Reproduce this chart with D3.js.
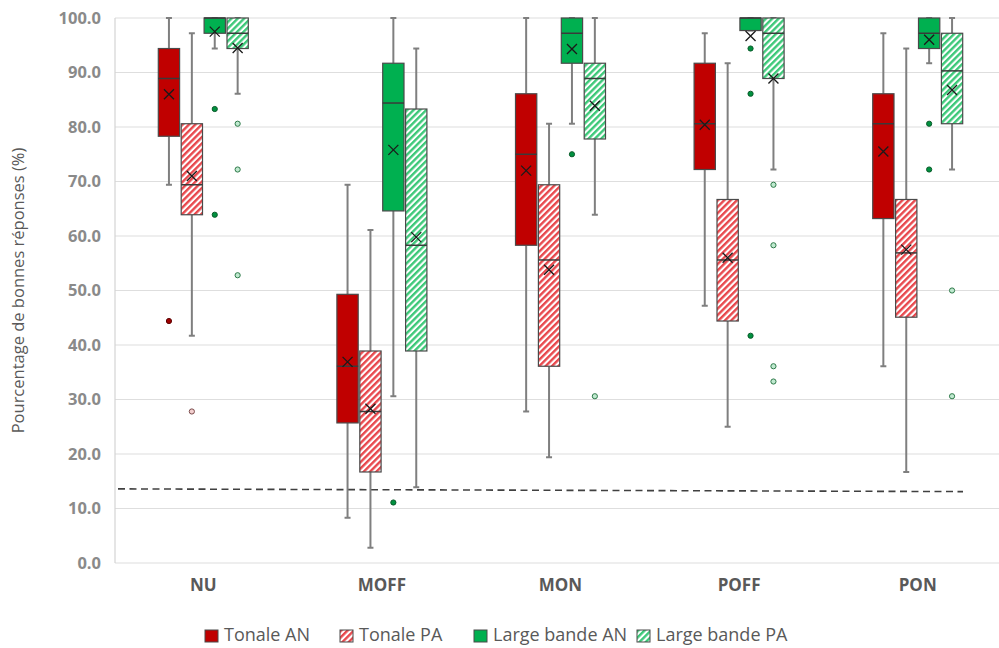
<!DOCTYPE html>
<html>
<head>
<meta charset="utf-8">
<script src="https://cdn.jsdelivr.net/npm/d3@7"></script>
<style>
  body { margin: 0; background: #fff; }
  text { font-family: "Open Sans", Lato, sans-serif; }
</style>
</head>
<body>
<div id="chart"></div>
<script>
const categories = ["NU", "MOFF", "MON", "POFF", "PON"];
const seriesNames = ["Tonale AN", "Tonale PA", "Large bande AN", "Large bande PA"];
const yTicks = [0, 10, 20, 30, 40, 50, 60, 70, 80, 90, 100];

// [min, q1, median, q3, max, mean] per category
const tonaleAN = [
  [69.4, 78.3, 88.9, 94.4, 100, 86.0],
  [8.3, 25.7, 36.1, 49.3, 69.4, 36.9],
  [27.8, 58.3, 75.0, 86.1, 100, 72.0],
  [47.2, 72.2, 80.6, 91.7, 97.2, 80.4],
  [36.1, 63.2, 80.6, 86.1, 97.2, 75.5],
];
const tonalePA = [
  [41.7, 63.9, 69.4, 80.6, 97.2, 71.0],
  [2.8, 16.7, 27.8, 38.9, 61.1, 28.3],
  [19.4, 36.1, 55.6, 69.4, 80.6, 53.8],
  [25.0, 44.4, 55.6, 66.7, 91.7, 56.0],
  [16.7, 45.1, 56.9, 66.7, 94.4, 57.5],
];
const largeAN = [
  [94.4, 97.2, 100, 100, 100, 97.5],
  [30.6, 64.6, 84.4, 91.7, 100, 75.8],
  [80.6, 91.7, 97.2, 100, 100, 94.3],
  [97.7, 97.7, 100, 100, 100, 96.7],
  [91.7, 94.4, 97.2, 100, 100, 96.0],
];
const largePA = [
  [86.1, 94.4, 97.2, 100, 100, 94.5],
  [13.9, 38.9, 58.3, 83.3, 94.4, 59.8],
  [63.9, 77.8, 88.9, 91.7, 100, 83.9],
  [72.2, 88.9, 97.2, 100, 100, 88.9],
  [72.2, 80.6, 90.3, 97.2, 100, 86.8],
];

// outliers per category
const tonaleANOut = [[44.4], [], [], [], []];
const tonalePAOut = [[27.8], [], [], [], []];
const largeANOut = [[83.3, 63.9], [11.1], [75.0], [94.4, 86.1, 41.7], [80.6, 72.2]];
const largePAOut = [[80.6, 72.2, 52.8], [], [30.6], [69.4, 58.3, 36.1, 33.3], [50.0, 30.6]];

// chance level dashed line (start, end)
const chanceLevel = [13.6, 13.1];

const allSeries = [
  { name: seriesNames[0], stats: tonaleAN, out: tonaleANOut, fill: "#C00000", hatch: false, ofill: "#a00000", ostroke: "#5a0000" },
  { name: seriesNames[1], stats: tonalePA, out: tonalePAOut, fill: "#E8474C", hatch: true, ofill: "#f3d0d0", ostroke: "#7a4a4a" },
  { name: seriesNames[2], stats: largeAN, out: largeANOut, fill: "#00B050", hatch: false, ofill: "#00913f", ostroke: "#0a5a2a" },
  { name: seriesNames[3], stats: largePA, out: largePAOut, fill: "#3CC878", hatch: true, ofill: "#bfe9cf", ostroke: "#2f7a4a" },
];

const width = 999;
const height = 648;
const margin = { top: 18, left: 115, bottom: 85 };

const svg = d3.select("#chart").append("svg")
  .attr("width", width)
  .attr("height", height);

const defs = svg.append("defs");
allSeries.forEach((s, i) => {
  if (!s.hatch) return;
  const p = defs.append("pattern")
    .attr("id", "hatch" + i)
    .attr("patternUnits", "userSpaceOnUse")
    .attr("width", 4.5)
    .attr("height", 4.5)
    .attr("patternTransform", "rotate(45)");
  p.append("rect").attr("width", 4.5).attr("height", 4.5).attr("fill", "#fff");
  p.append("rect").attr("width", 2.4).attr("height", 4.5).attr("fill", s.fill);
});

const x = d3.scaleBand()
  .domain(categories)
  .range([114, 1007]);

const inner = d3.scaleBand()
  .domain(seriesNames)
  .range([-45, 45])
  .paddingInner(0.07);

const y = d3.scaleLinear()
  .domain([0, 100])
  .range([height - margin.bottom, margin.top]);

// grid
svg.append("g")
  .selectAll("line")
  .data(yTicks)
  .join("line")
  .attr("x1", margin.left)
  .attr("x2", width)
  .attr("y1", (d) => y(d))
  .attr("y2", (d) => y(d))
  .attr("stroke", "#dedede")
  .attr("stroke-width", 1.2);

svg.append("line")
  .attr("x1", margin.left).attr("x2", margin.left)
  .attr("y1", y(100)).attr("y2", y(0))
  .attr("stroke", "#d4d4d4")
  .attr("stroke-width", 1.2);

// y axis labels
const yAxis = d3.axisLeft(y)
  .tickValues(yTicks)
  .tickSize(0)
  .tickPadding(14)
  .tickFormat(d3.format(".1f"));

svg.append("g")
  .attr("transform", `translate(${margin.left},0)`)
  .call(yAxis)
  .call((g) => g.select(".domain").remove())
  .selectAll("text")
  .attr("font-size", 16.5)
  .attr("font-weight", 700)
  .attr("fill", "#8a8a8a");

// x axis labels
const xAxis = d3.axisBottom(x).tickSize(0).tickPadding(16);
svg.append("g")
  .attr("transform", `translate(0,${y(0)})`)
  .call(xAxis)
  .call((g) => g.select(".domain").remove())
  .selectAll("text")
  .attr("font-size", 17)
  .attr("font-weight", 700)
  .attr("fill", "#595959");

svg.append("text")
  .attr("transform", `translate(20,${(y(0) + y(100)) / 2}) rotate(-90)`)
  .attr("text-anchor", "middle")
  .attr("dominant-baseline", "middle")
  .attr("font-size", 16.5)
  .attr("fill", "#595959")
  .text("Pourcentage de bonnes réponses (%)");

// chance line
svg.append("line")
  .attr("x1", 118).attr("x2", 963)
  .attr("y1", y(chanceLevel[0]))
  .attr("y2", y(chanceLevel[1]))
  .attr("stroke", "#404040")
  .attr("stroke-width", 1.6)
  .attr("stroke-dasharray", "7,4.5");

// boxes
const bw = inner.bandwidth();
allSeries.forEach((s, i) => {
  const g = svg.append("g").attr("class", "series" + i);
  categories.forEach((cat, c) => {
    const st = s.stats[c];
    const x0 = x(cat) + x.bandwidth() / 2 + inner(s.name);
    const cx = x0 + bw / 2;

    // whiskers
    g.append("line")
      .attr("x1", cx).attr("x2", cx)
      .attr("y1", y(st[4])).attr("y2", y(st[3]))
      .attr("stroke", "#7f7f7f").attr("stroke-width", 2);
    g.append("line")
      .attr("x1", cx).attr("x2", cx)
      .attr("y1", y(st[1])).attr("y2", y(st[0]))
      .attr("stroke", "#7f7f7f").attr("stroke-width", 2);
    [st[0], st[4]].forEach((v) => {
      g.append("line")
        .attr("x1", cx - 3).attr("x2", cx + 3)
        .attr("y1", y(v)).attr("y2", y(v))
        .attr("stroke", "#7f7f7f").attr("stroke-width", 2);
    });

    // box
    g.append("rect")
      .attr("x", x0)
      .attr("y", y(st[3]))
      .attr("width", bw)
      .attr("height", Math.max(0.5, y(st[1]) - y(st[3])))
      .attr("fill", s.hatch ? `url(#hatch${i})` : s.fill)
      .attr("stroke", "#4a4a4a")
      .attr("stroke-width", 1.2);

    // median
    g.append("line")
      .attr("x1", x0).attr("x2", x0 + bw)
      .attr("y1", y(st[2])).attr("y2", y(st[2]))
      .attr("stroke", "#3a3a3a").attr("stroke-width", 1.5);

    // mean
    const my = y(st[5]);
    const r = 5;
    g.append("path")
      .attr("d", `M${cx - r},${my - r}L${cx + r},${my + r}M${cx + r},${my - r}L${cx - r},${my + r}`)
      .attr("stroke", "#1a1a1a")
      .attr("stroke-width", 1.3)
      .attr("fill", "none");

    // outliers
    s.out[c].forEach((v) => {
      g.append("circle")
        .attr("cx", cx)
        .attr("cy", y(v))
        .attr("r", 2.6)
        .attr("fill", s.ofill)
        .attr("stroke", s.ostroke)
        .attr("stroke-width", 1);
    });
  });
});

// legend
const legendX = [205, 340, 474, 637];
const legend = svg.append("g");
allSeries.forEach((s, i) => {
  const lg = legend.append("g").attr("transform", `translate(${legendX[i]},630)`);
  lg.append("rect")
    .attr("width", 13).attr("height", 12)
    .attr("fill", s.hatch ? `url(#hatch${i})` : s.fill)
    .attr("stroke", "#4a4a4a")
    .attr("stroke-width", 1);
  lg.append("text")
    .attr("x", 19)
    .attr("y", 6)
    .attr("dominant-baseline", "middle")
    .attr("font-size", 18)
    .attr("fill", "#595959")
    .text(s.name);
});
</script>
</body>
</html>
